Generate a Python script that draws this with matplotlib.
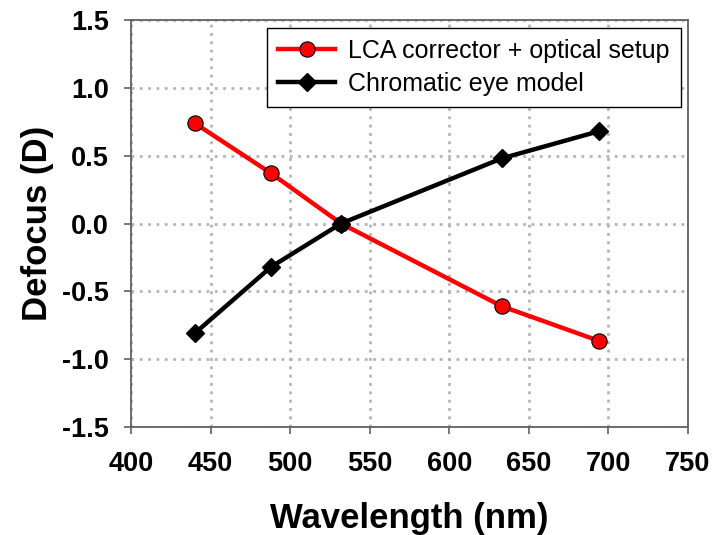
import matplotlib
matplotlib.use('Agg')
import matplotlib.pyplot as plt

plt.rcParams['font.family'] = ['Liberation Sans', 'DejaVu Sans']

# datos
wavelength = [440, 488, 532, 633, 694]
lca_corrector = [0.74, 0.37, 0.0, -0.61, -0.865]
eye_model = [-0.81, -0.32, 0.0, 0.48, 0.68]

fig = plt.figure(figsize=(7.15, 5.35), dpi=100)
ax = fig.add_axes([131 / 715, 1 - 427 / 535, (688 - 131) / 715, (427 - 20) / 535])

ax.plot(wavelength, lca_corrector, color='red', lw=3.2, marker='o', ms=11,
        mfc='red', mec='black', mew=0.8, label='LCA corrector + optical setup')
ax.plot(wavelength, eye_model, color='black', lw=3.2, marker='D', ms=9,
        mfc='black', mec='black', label='Chromatic eye model')

ax.set_xlim(400, 750)
ax.set_ylim(-1.5, 1.5)
ax.set_xticks(range(400, 751, 50))
ax.set_yticks([-1.5, -1.0, -0.5, 0.0, 0.5, 1.0, 1.5])
ax.set_yticklabels(['%.1f' % v for v in [-1.5, -1.0, -0.5, 0.0, 0.5, 1.0, 1.5]])

ax.grid(True, color='#b4b4b4', linestyle=(0, (1, 2)), linewidth=2)
for s in ax.spines.values():
    s.set_color('#606060')
    s.set_linewidth(1.3)
ax.tick_params(direction='out', length=5, width=1.2, color='#606060',
               labelsize=19.5)
ax.tick_params(axis='x', pad=12)
ax.tick_params(axis='y', pad=11)
for lbl in ax.get_xticklabels() + ax.get_yticklabels():
    lbl.set_fontweight('bold')

ax.set_xlabel('Wavelength (nm)', fontsize=25, fontweight='bold', labelpad=18)
ax.set_ylabel('Defocus (D)', fontsize=25, fontweight='bold', labelpad=6)

leg = ax.legend(loc='upper right', fontsize=18, fancybox=False, framealpha=1,
                edgecolor='black', borderaxespad=0.3, handlelength=2.3,
                handletextpad=0.5, labelspacing=0.35, borderpad=0.45)
leg.get_frame().set_linewidth(1.0)

fig.savefig('out.png', dpi=100)
